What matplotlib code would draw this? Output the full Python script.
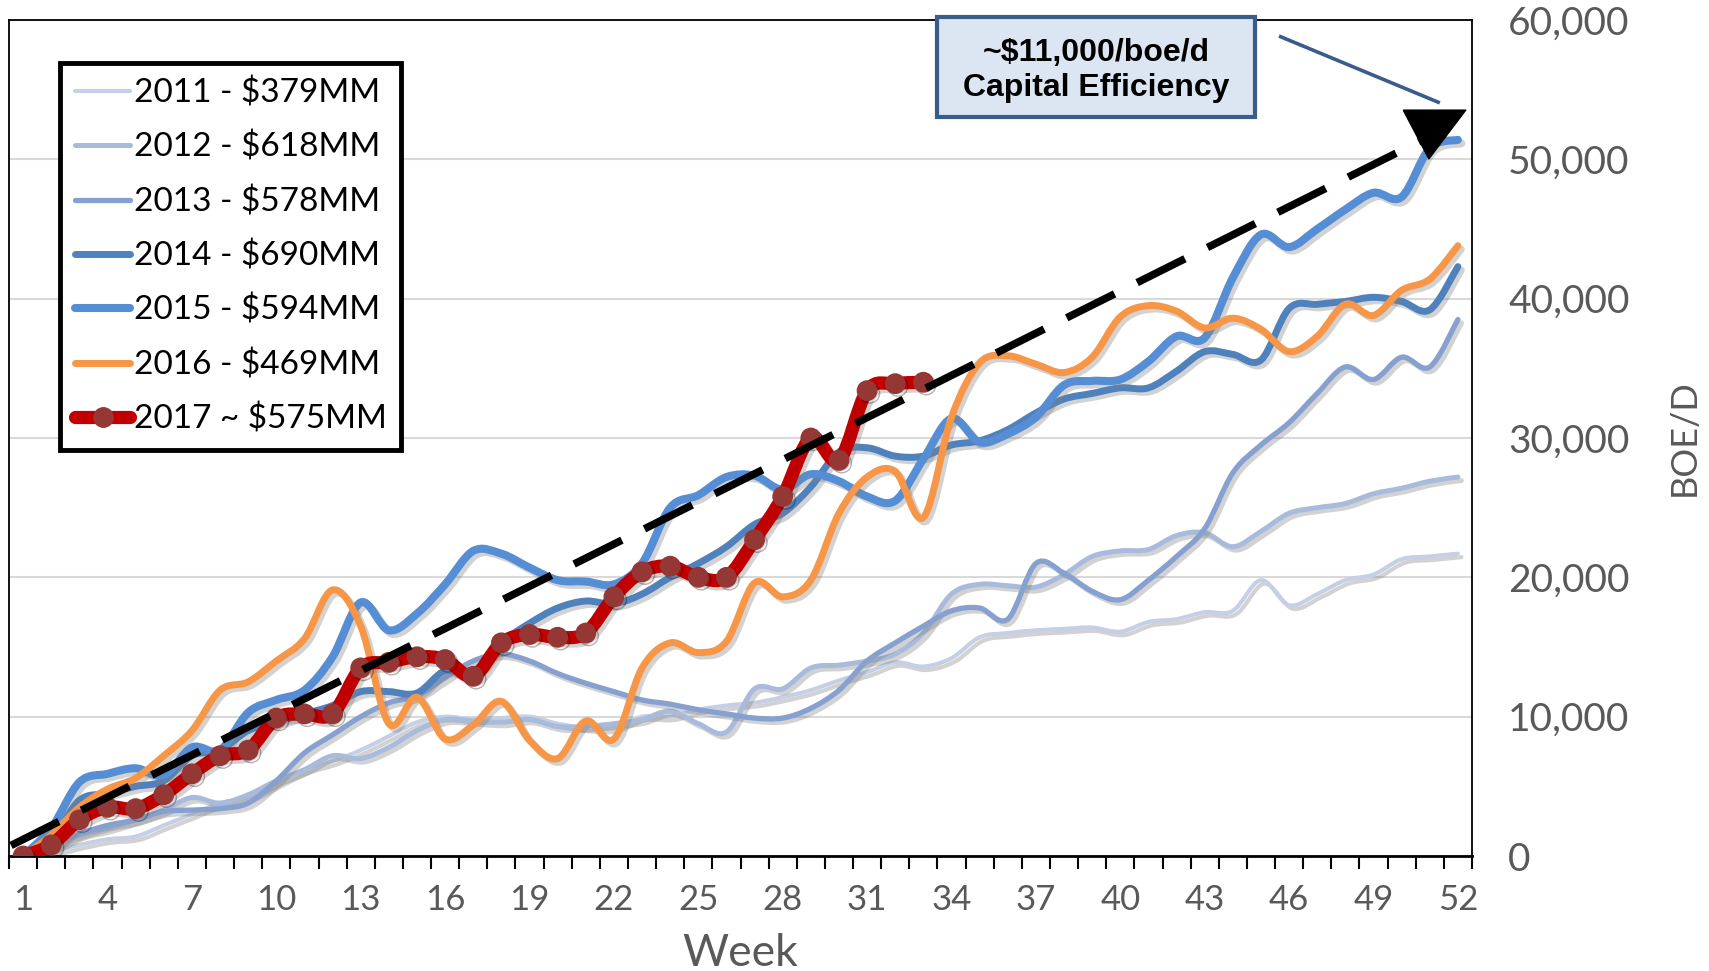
import numpy as np
import matplotlib
matplotlib.use("Agg")
import matplotlib.pyplot as plt
import matplotlib.patheffects as pe
from matplotlib.patches import Rectangle, PathPatch
from matplotlib.path import Path
from matplotlib.lines import Line2D
from matplotlib.ticker import FuncFormatter

# weekly production, BOE/D
weeks = list(range(1, 53))

vals_2011 = [0, 300, 800, 1200, 1400, 2200, 3000, 3800, 4200, 5200,
             6200, 6800, 7600, 8600, 9600, 10000, 9800, 9900, 10000, 9500,
             9200, 9200, 10000, 10000, 10500, 10800, 11000, 11400, 11900, 12600,
             13200, 13900, 13600, 14200, 15700, 16000, 16200, 16300, 16400, 16100,
             16800, 17000, 17500, 17600, 19800, 18000, 18800, 19800, 20200, 21300,
             21500, 21700]
vals_2012 = [0, 500, 1500, 2000, 2600, 3300, 4200, 3800, 4400, 5400,
             6200, 7200, 7000, 7800, 9000, 9800, 9700, 9600, 9800, 9300,
             9300, 9500, 9800, 10400, 9500, 8900, 12000, 12000, 13500, 13700,
             14000, 14500, 16000, 18800, 19500, 19400, 19300, 20200, 21500, 21900,
             22000, 23000, 23200, 22200, 23300, 24600, 25000, 25300, 26000, 26400,
             26900, 27200]
vals_2013 = [0, 800, 1600, 2200, 2600, 3200, 3300, 3400, 3800, 5400,
             7400, 8700, 10000, 11000, 11500, 12800, 14000, 14500, 14000, 13100,
             12400, 11800, 11200, 10900, 10500, 10200, 9900, 9900, 10600, 11900,
             14000, 15300, 16500, 17600, 17800, 17000, 21000, 20300, 19000, 18400,
             19800, 21500, 23500, 27500, 29500, 31100, 33200, 35100, 34200, 35800,
             35100, 38500]
vals_2014 = [0, 1200, 4000, 4500, 5000, 5400, 7200, 7600, 9000, 9600,
             10200, 10800, 11800, 11800, 11700, 13300, 13000, 15300, 16700, 17800,
             18300, 18100, 18800, 20000, 21000, 22200, 23800, 24600, 26500, 29000,
             29300, 28700, 28700, 29500, 29800, 30600, 31800, 32800, 33200, 33600,
             33600, 34800, 36200, 36000, 35600, 39300, 39600, 39800, 40100, 39800,
             39200, 42300]
vals_2015 = [0, 2000, 5300, 5900, 6300, 5800, 7800, 7600, 10300, 11200,
             11900, 14300, 18200, 16200, 17400, 19500, 21900, 21700, 20700, 19800,
             19700, 19500, 21000, 25000, 25900, 27200, 27300, 26300, 27400, 26900,
             25800, 25500, 28500, 31400, 29700, 30300, 31500, 33800, 34100, 34200,
             35500, 37300, 37200, 41500, 44600, 43700, 45000, 46400, 47600, 47300,
             50800, 51400]
vals_2016 = [0, 1500, 3500, 4800, 5600, 7200, 9000, 11900, 12500, 14000,
             15600, 19100, 16500, 9500, 11400, 8400, 9400, 11100, 8300, 7000,
             9700, 8400, 13500, 15300, 14600, 15400, 19600, 18600, 19800, 24600,
             27200, 27600, 24300, 31500, 35400, 35900, 35300, 34700, 35800, 38700,
             39500, 39100, 37900, 38600, 37800, 36200, 37300, 39600, 38800, 40600,
             41400, 43800]
weeks_2017 = list(range(1, 34))
vals_2017 = [0, 800, 2600, 3500, 3400, 4400, 5900, 7200, 7600, 9900,
             10200, 10200, 13500, 13900, 14300, 14100, 12900, 15300, 15900, 15700,
             16000, 18600, 20400, 20800, 20000, 20000, 22700, 25800, 30000, 28400,
             33400, 33900, 34000]

labels = ["2011 - \\$379MM", "2012 - \\$618MM", "2013 - \\$578MM", "2014 - \\$690MM",
          "2015 - \\$594MM", "2016 - \\$469MM", "2017 ~ \\$575MM"]

# capital efficiency trend line (week, BOE/D)
trend_weeks = [0.57, 51.15]
trend_vals = [760, 51800]

FONT = ["Lato", "DejaVu Sans"]
GREY = "#595959"


def smooth_path(xs, ys):
    # Excel-style smoothed line: bezier segments through the data points
    pts = np.column_stack([xs, ys]).astype(float)
    n = len(pts)
    verts = [pts[0]]
    codes = [Path.MOVETO]
    for i in range(n - 1):
        p0 = pts[i - 1] if i > 0 else pts[i]
        p1, p2 = pts[i], pts[i + 1]
        p3 = pts[i + 2] if i + 2 < n else pts[i + 1]
        verts += [p1 + (p2 - p0) / 6, p2 - (p3 - p1) / 6, p2]
        codes += [Path.CURVE4] * 3
    return Path(verts, codes)


fig = plt.figure(figsize=(17.09, 9.71), dpi=100)
ax = fig.add_axes([0.0053, 0.1184, 0.856, 0.861])

shadow = [pe.SimpleLineShadow(offset=(2.5, -2.5), shadow_color="#808080", alpha=0.35), pe.Normal()]

series = [
    (vals_2011, "#C5D0E6", 3.0),
    (vals_2012, "#A9BBDC", 3.6),
    (vals_2013, "#86A0D0", 3.8),
    (vals_2014, "#4F81BD", 5.0),
    (vals_2015, "#558ED5", 5.8),
    (vals_2016, "#F79646", 5.0),
]
handles = []
for i, ((vals, color, lw), lab) in enumerate(zip(series, labels)):
    patch = PathPatch(smooth_path(weeks, vals), fill=False, edgecolor=color, lw=lw,
                      capstyle="round", joinstyle="round", path_effects=shadow, zorder=2 + i * 0.1)
    ax.add_patch(patch)
    handles.append(Line2D([], [], color=color, lw=lw, solid_capstyle="round", label=lab))

red = PathPatch(smooth_path(weeks_2017, vals_2017), fill=False, edgecolor="#C00000", lw=9.5,
                capstyle="round", joinstyle="round", path_effects=shadow, zorder=5)
ax.add_patch(red)
ax.plot(weeks_2017, vals_2017, linestyle="none", marker="o", ms=14,
        mfc="#953735", mec="#953735", zorder=6,
        path_effects=[pe.SimpleLineShadow(offset=(2, -2), alpha=0.3), pe.Normal()])
handles.append(Line2D([], [], color="#C00000", lw=9.5, solid_capstyle="round",
                      marker="o", ms=14, mfc="#953735", mec="#953735", label=labels[6]))

# dashed trend with arrowhead
ax.plot(trend_weeks, trend_vals, color="black", lw=5.5, dashes=(7, 3.3),
        dash_capstyle="butt", zorder=10)
head = [(-1, 0.78), (1, 0.78), (-0.18, -0.78), (-1, 0.78)]
ax.plot([trend_weeks[-1]], [trend_vals[-1]], marker=head, ms=45, color="black",
        linestyle="none", zorder=11)

# callout box
ax.plot([45.7, 51.3], [58800, 54100], color="#385D8A", lw=2.6, zorder=11, clip_on=False)
ax.add_patch(Rectangle((33.5, 53050), 11.3, 7200, facecolor="#DCE6F2",
                       edgecolor="#385D8A", lw=3, zorder=12, clip_on=False))
ax.text(39.15, 56400, "~\\$11,000/boe/d\nCapital Efficiency", ha="center", va="center",
        fontsize=23, fontweight="bold", family="Liberation Sans", zorder=13,
        linespacing=1.22)

ax.set_xlim(0.5, 52.5)
ax.set_ylim(0, 60000)

ax.yaxis.tick_right()
ax.yaxis.set_label_position("right")
ax.set_yticks(range(0, 60001, 10000))
ax.yaxis.set_major_formatter(FuncFormatter(lambda v, p: f"{int(v):,}"))
ax.tick_params(axis="y", length=0, pad=26, labelsize=28, labelcolor=GREY)

ax.set_xticks(range(1, 53, 3))
ax.set_xticks(np.arange(0.5, 53, 1), minor=True)
ax.tick_params(axis="x", which="major", length=0, pad=20, labelsize=25, labelcolor=GREY)
ax.tick_params(axis="x", which="minor", length=9, width=1.5, color="black", direction="out")
for t in ax.get_xticklabels() + ax.get_yticklabels():
    t.set_family(FONT)

ax.grid(axis="y", color="#D9D9D9", lw=1.5)
ax.set_axisbelow(True)

for s in ax.spines.values():
    s.set_color("black")
    s.set_linewidth(1.3)
ax.spines["bottom"].set_linewidth(2)

ax.set_xlabel("Week", fontsize=32, color=GREY, family=FONT)
ax.xaxis.set_label_coords(0.5, -0.092)
ax.set_ylabel("BOE/D", fontsize=26, color=GREY, family=FONT, rotation=90)
ax.yaxis.set_label_coords(1.145, 0.5)
ax.yaxis.label.set_verticalalignment("center")

leg = ax.legend(handles=handles, loc="upper left", bbox_to_anchor=(0.035, 0.949),
                borderaxespad=0, prop={"family": FONT, "size": 24},
                handlelength=1.65, handletextpad=0.1, labelspacing=0.7,
                borderpad=0.45, fancybox=False, framealpha=1)
leg.get_frame().set_edgecolor("black")
leg.get_frame().set_linewidth(3.5)
leg.set_zorder(20)

fig.savefig("out.png", dpi=100)
